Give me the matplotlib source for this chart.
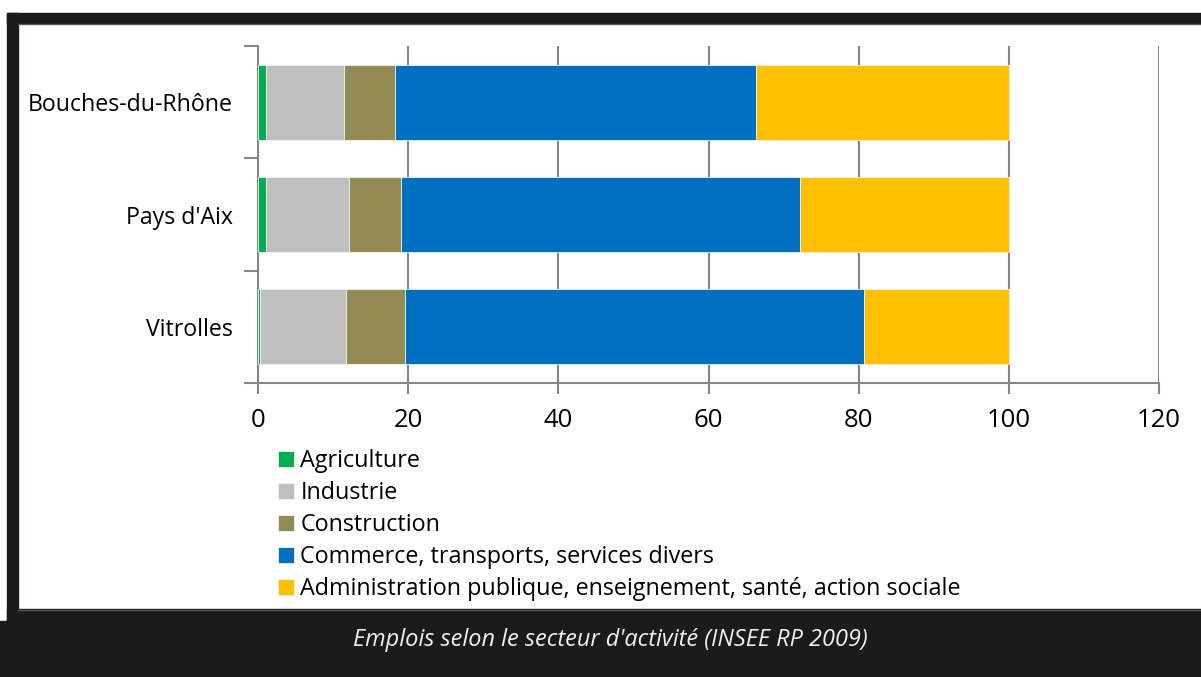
import numpy as np
import matplotlib.pyplot as plt
from matplotlib.patches import Rectangle

regions = ["Bouches-du-Rhône", "Pays d'Aix", "Vitrolles"]
sectors = ["Agriculture", "Industrie", "Construction",
           "Commerce, transports, services divers",
           "Administration publique, enseignement, santé, action sociale"]
agriculture = [1.0, 1.0, 0.2]
industrie = [10.5, 11.1, 11.5]
construction = [6.7, 7.0, 7.9]
commerce = [48.1, 53.1, 61.1]
administration = [33.7, 27.8, 19.3]
colors = ["#00B050", "#BFBFBF", "#948A54", "#0070C0", "#FFC000"]
xticks = [0, 20, 40, 60, 80, 100, 120]
caption = "Emplois selon le secteur d'activité (INSEE RP 2009)"

plt.rcParams['font.family'] = ['Open Sans', 'DejaVu Sans']

W, H = 1201, 677
fig = plt.figure(figsize=(W / 100, H / 100), dpi=100)

# frame drawn in pixel coordinates
bg = fig.add_axes([0, 0, 1, 1], zorder=-1)
bg.set_xlim(0, W)
bg.set_ylim(H, 0)
bg.axis('off')
dark = "#1d1b19"
bg.add_patch(Rectangle((7, 13), W - 7, 10, color=dark))
bg.add_patch(Rectangle((7, 13), 11, 609, color=dark))
bg.add_patch(Rectangle((7, 609), W - 7, 13, color=dark))
bg.add_patch(Rectangle((0, 621), W, H - 621, color=dark))
bg.plot([18, W], [23.5, 23.5], color="#555555", lw=1)
bg.plot([18, W], [609.5, 609.5], color="#555555", lw=1)
bg.text(610, 640, caption, color="#f0f0f0", fontsize=16.9, style='italic',
        ha='center', va='center')

# main chart
ax = fig.add_axes([258 / W, (H - 383) / H, (1159 - 258) / W, (383 - 46) / H])
ax.set_facecolor('none')
series = [agriculture, industrie, construction, commerce, administration]
y = np.arange(len(regions))
left = np.zeros(len(regions))
for name, vals, c in zip(sectors, series, colors):
    ax.barh(y, vals, left=left, height=0.665, color=c, edgecolor='#f2f2f2',
            linewidth=0.6, label=name, zorder=3)
    left += np.array(vals)

ax.set_xlim(0, 120)
ax.set_ylim(2.5, -0.5)
ax.set_xticks(xticks)
ax.set_xticklabels([str(t) for t in xticks], fontsize=18.5)
ax.set_yticks(y)
ax.set_yticklabels(regions, fontsize=16.7)
ax.set_yticks([-0.5, 0.5, 1.5, 2.5], minor=True)
ax.tick_params(axis='y', which='major', length=0, pad=18)
ax.tick_params(axis='y', which='minor', length=10, color='#868686', width=1.5)
ax.tick_params(axis='x', length=8, color='#868686', width=1.5, pad=10)
ax.grid(axis='x', color='#868686', linewidth=1.5, zorder=0)
for s in ['top', 'right']:
    ax.spines[s].set_visible(False)
for s in ['left', 'bottom']:
    ax.spines[s].set_color('#868686')
    ax.spines[s].set_linewidth(1.5)

handles, labels = ax.get_legend_handles_labels()
fig.legend(handles, labels, loc='upper left',
           bbox_to_anchor=(269 / W, 1 - 440 / H), frameon=False,
           fontsize=16.8, handlelength=0.65, handleheight=0.65,
           handletextpad=0.3, labelspacing=0.34, borderaxespad=0)

fig.savefig('out.png', dpi=100)
